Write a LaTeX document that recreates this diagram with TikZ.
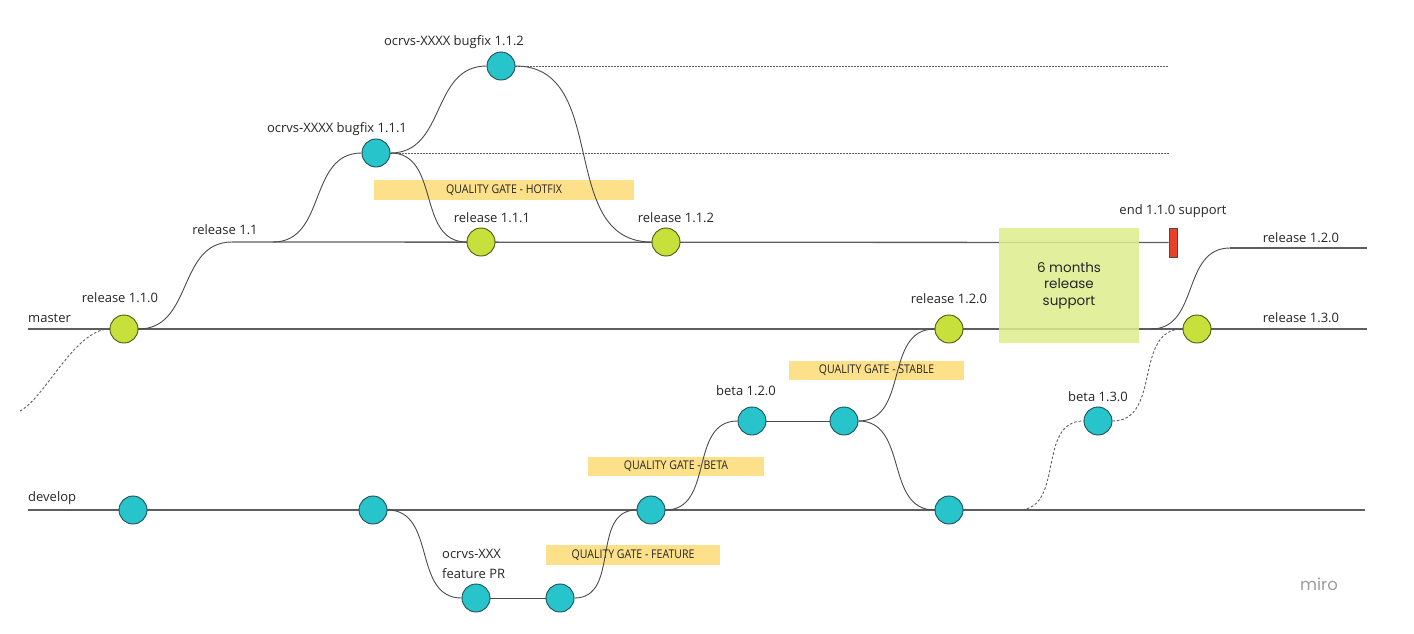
\documentclass[tikz,border=0pt]{standalone}
\usepackage{fontspec}
\setmainfont{Open Sans}
\newfontfamily\popfont{Poppins}
\newfontfamily\condfont[FakeStretch=0.88]{Open Sans}
\definecolor{cyanfill}{HTML}{27C4CC}
\definecolor{cyanedge}{HTML}{1E4F56}
\definecolor{greenfill}{HTML}{C7E03B}
\definecolor{greenedge}{HTML}{4B5A12}
\definecolor{gatefill}{HTML}{FCE08A}
\definecolor{supportfill}{HTML}{DDEE8E}
\definecolor{markred}{HTML}{E8412B}
\definecolor{linegrey}{HTML}{5E5E5E}
\definecolor{txt}{HTML}{262626}
\pgfdeclarelayer{boxes}
\pgfdeclarelayer{lines}
\pgfsetlayers{boxes,lines,main}
\begin{document}
\begin{tikzpicture}[x=1pt,y=-1pt,
  commit/.style={circle,minimum size=28pt,inner sep=0pt,line width=0.9pt},
  devc/.style={commit,draw=cyanedge,fill=cyanfill},
  relc/.style={commit,draw=greenedge,fill=greenfill},
  lbl/.style={font=\fontsize{13}{15}\selectfont,text=txt,inner sep=0pt},
  gate/.style={fill=gatefill,inner sep=0pt,font=\condfont\fontsize{12}{14}\selectfont,text=txt},
  trunk/.style={draw=linegrey,line width=1.3pt},
  branch/.style={draw=linegrey!80!black,line width=0.9pt},
  dotl/.style={draw=linegrey,line width=0.9pt,dash pattern=on 1.5pt off 1.5pt},
  dashc/.style={draw=linegrey,line width=0.9pt,dash pattern=on 2.5pt off 2pt},
  sc/.style={out=0,in=180,looseness=1.1}
]
\useasboundingbox (0,0) rectangle (1414,633);
\begin{pgfonlayer}{boxes}
  \fill[white] (0,0) rectangle (1414,633);
  \node[gate,minimum width=260pt,minimum height=20pt] (qghot) at (504,190) {QUALITY GATE - HOTFIX};
  \node[gate,minimum width=175pt,minimum height=19pt] (qgstable) at (876.5,370.5) {QUALITY GATE - STABLE};
  \node[gate,minimum width=176pt,minimum height=19pt] (qgbeta) at (676,466.5) {QUALITY GATE - BETA};
  \node[gate,minimum width=174pt,minimum height=20pt] (qgfeat) at (633,555) {QUALITY GATE - FEATURE};
\end{pgfonlayer}

% coordinates for free line ends
\coordinate (mstart) at (28,329);
\coordinate (mend) at (1367,329);
\coordinate (dstart) at (28,510);
\coordinate (dend) at (1365,510);
\coordinate (lstart) at (20,411);
\coordinate (r11s) at (232,242);
\coordinate (b1s) at (273,242);
\coordinate (d1e) at (1169,153);
\coordinate (d2e) at (1169,66);
\coordinate (m2) at (1151,329);
\coordinate (r12s) at (1230,248);
\coordinate (r12e) at (1367,248);
\coordinate (b13s) at (1018,510);

% commits
\node[relc] (rel110) at (124,329) {};
\node[relc] (rel111) at (481,242) {};
\node[relc] (rel112) at (666,242) {};
\node[relc] (rel120) at (949,329) {};
\node[relc] (rel130) at (1197,329) {};
\node[devc] (bf111) at (376,153) {};
\node[devc] (bf112) at (501,66) {};
\node[devc] (dev1) at (133,510) {};
\node[devc] (dev2) at (373,510) {};
\node[devc] (dev3) at (651,510) {};
\node[devc] (dev4) at (949,510) {};
\node[devc] (feat1) at (476,598) {};
\node[devc] (feat2) at (560,598) {};
\node[devc] (beta1) at (752,421) {};
\node[devc] (beta2) at (844,421) {};
\node[devc] (beta130) at (1098,421) {};

% end of support marker and support box
\node[draw=black!70,line width=0.6pt,fill=markred,minimum width=8pt,minimum height=29pt,inner sep=0pt] (endsup) at (1173,242.5) {};
\node[fill=supportfill,fill opacity=0.85,text opacity=1,minimum width=140pt,minimum height=115pt,inner sep=0pt,align=center,
  font=\popfont\fontsize{13.5}{16.5}\selectfont,text=txt] (support) at (1069,285.5) {6 months\\release\\support};

% labels
\node[lbl,anchor=west] (lmaster) at (28,318) {master};
\node[lbl,anchor=west] (ldevelop) at (28,498) {develop};
\node[lbl] (l110) at (120,298) {release 1.1.0};
\node[lbl] (l11) at (225,230) {release 1.1};
\node[lbl] (lbf111) at (337,129) {ocrvs-XXXX bugfix 1.1.1};
\node[lbl] (lbf112) at (454,42) {ocrvs-XXXX bugfix 1.1.2};
\node[lbl] (l111) at (492,218) {release 1.1.1};
\node[lbl] (l112) at (676,218) {release 1.1.2};
\node[lbl] (lend) at (1173,211) {end 1.1.0 support};
\node[lbl] (l120) at (949,299) {release 1.2.0};
\node[lbl] (l120b) at (1301,238) {release 1.2.0};
\node[lbl] (l130) at (1301,318) {release 1.3.0};
\node[lbl] (lbeta120) at (746,391) {beta 1.2.0};
\node[lbl] (lbeta130) at (1098,397) {beta 1.3.0};
\node[lbl,anchor=west,align=left,font=\fontsize{13}{20}\selectfont] (lfeat) at (442,564) {ocrvs-XXX\\feature PR};
\node[font=\popfont\fontsize{16.5}{18}\selectfont,text=black!38,inner sep=0pt] (miro) at (1319,584) {miro};

% connectors
\begin{pgfonlayer}{lines}
  \draw[trunk] (mstart) -- (mend);
  \draw[trunk] (dstart) -- (dend);
  \draw[dashc] (lstart) .. controls (45,398) and (75,329) .. (rel110.west);
  \draw[branch] (rel110.east) to[sc] (r11s);
  \draw[trunk] (r11s) -- (endsup.west);
  \draw[branch] (b1s) to[sc] (bf111.west);
  \draw[branch] (bf111.east) to[sc] (rel111.west);
  \draw[branch] (bf111.east) to[sc] (bf112.west);
  \draw[dotl] (bf111.east) -- (d1e);
  \draw[dotl] (bf112.east) -- (d2e);
  \draw[branch] (bf112.east) to[sc] (rel112.west);
  \draw[branch] (m2) to[sc] (r12s);
  \draw[trunk] (r12s) -- (r12e);
  \draw[branch] (dev2.east) to[sc] (feat1.west);
  \draw[branch] (feat1) -- (feat2);
  \draw[branch] (feat2.east) to[sc] (dev3.west);
  \draw[branch] (dev3.east) to[sc] (beta1.west);
  \draw[branch] (beta1) -- (beta2);
  \draw[branch] (beta2.east) to[sc] (rel120.west);
  \draw[branch] (beta2.east) to[sc] (dev4.west);
  \draw[dashc] (b13s) to[sc] (beta130.west);
  \draw[dashc] (beta130.east) to[sc] (rel130.west);
\end{pgfonlayer}
\end{tikzpicture}
\end{document}
